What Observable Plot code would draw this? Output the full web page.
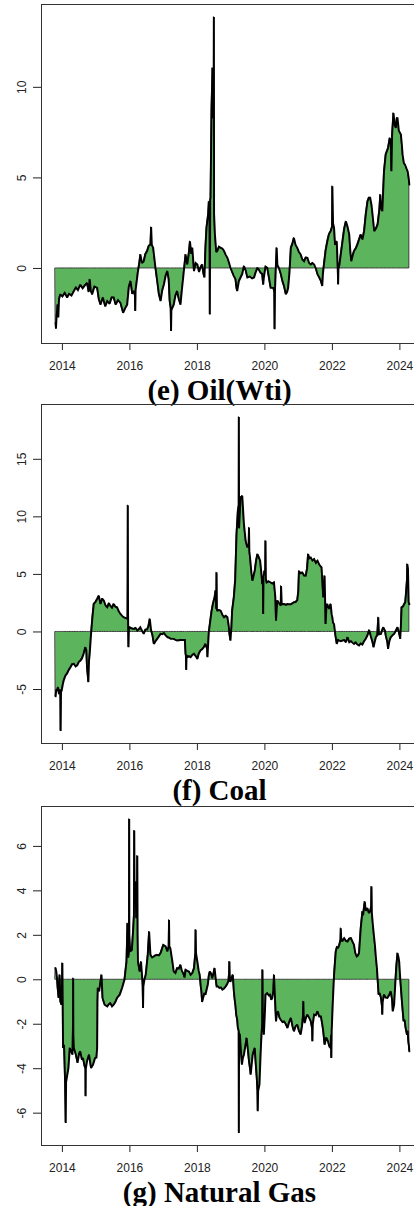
<!DOCTYPE html>
<html>
<head>
<meta charset="utf-8">
<script src="https://cdn.jsdelivr.net/npm/d3@7"></script>
<script src="https://cdn.jsdelivr.net/npm/@observablehq/plot@0.6"></script>
<style>
  html, body { margin: 0; padding: 0; background: #fff; overflow: hidden; }
  #page { position: relative; width: 414px; height: 1206px; overflow: hidden; }
  .panel { position: absolute; left: 0; width: 430px; }
  .title {
    position: absolute; left: 0; width: 439px; text-align: center;
    font: bold 29px "Liberation Serif", "Times New Roman", serif;
    line-height: 29px; color: #000; white-space: nowrap;
  }
</style>
</head>
<body>
<div id="page"></div>
<script>
// Year ticks shared by all three panels
const xTicks = [2014, 2016, 2018, 2020, 2022, 2024];

// Tick values on each value axis
const oilTicks = [0, 5, 10];
const coalTicks = [-5, 0, 5, 10, 15];
const gasTicks = [-6, -4, -2, 0, 2, 4, 6];

// Panel titles
const titles = ["(e) Oil(Wti)", "(f) Coal", "(g) Natural Gas"];

// [decimal year, value]
const oilWti = [
  [2013.80,-3.0],[2013.81,-3.33],[2013.83,-2.6],[2013.86,-2.0],[2013.88,-2.7],[2013.90,-1.7],[2013.94,-1.43],
  [2014.00,-1.55],[2014.07,-1.35],[2014.14,-1.6],[2014.20,-1.4],[2014.27,-1.5],[2014.34,-1.25],[2014.40,-1.05],
  [2014.46,-1.2],[2014.53,-0.9],[2014.60,-1.1],[2014.66,-0.95],[2014.73,-0.8],[2014.78,-1.3],[2014.81,-0.6],
  [2014.84,-1.2],[2014.88,-1.43],[2014.95,-1.0],[2015.03,-1.07],[2015.08,-1.7],[2015.13,-2.0],[2015.20,-1.6],
  [2015.27,-2.1],[2015.33,-1.8],[2015.40,-1.95],[2015.46,-1.6],[2015.52,-1.6],[2015.58,-2.0],[2015.65,-1.75],
  [2015.72,-1.9],[2015.80,-2.45],[2015.86,-2.2],[2015.92,-2.0],[2015.97,-1.0],[2016.02,-0.7],[2016.07,-1.4],
  [2016.12,-1.25],[2016.15,-1.5],[2016.16,-2.35],[2016.17,-1.2],[2016.24,-0.15],[2016.28,0.3],[2016.31,0.77],
  [2016.36,0.3],[2016.41,0.4],[2016.46,0.8],[2016.51,0.96],[2016.56,1.25],[2016.61,1.32],[2016.63,2.28],
  [2016.65,1.3],[2016.69,1.14],[2016.76,0],[2016.81,-0.7],[2016.86,-1.43],[2016.91,-1.8],[2016.96,-1.2],
  [2017.01,-0.88],[2017.06,-0.4],[2017.11,-0.15],[2017.15,-0.6],[2017.18,-1.8],[2017.21,-2.2],[2017.22,-3.45],
  [2017.23,-2.3],[2017.30,-2.0],[2017.35,-1.5],[2017.40,-1.25],[2017.45,-1.7],[2017.50,-2.0],[2017.54,-1.2],
  [2017.58,-0.5],[2017.65,0.77],[2017.70,0.22],[2017.75,0.9],[2017.78,1.5],[2017.82,0.8],[2017.85,1.14],
  [2017.90,-0.15],[2017.95,0.3],[2018.00,0.22],[2018.05,-0.2],[2018.09,0.04],[2018.14,0.22],[2018.18,-0.3],
  [2018.21,-0.5],[2018.24,1.2],[2018.27,2.24],[2018.32,3.0],[2018.34,3.7],[2018.36,3.5],[2018.37,-2.54],
  [2018.38,3.8],[2018.39,3.9],[2018.42,8.86],[2018.45,11.07],[2018.47,8.3],[2018.485,9.5],[2018.49,13.88],
  [2018.495,3.0],[2018.52,1.87],[2018.56,0.9],[2018.59,0.96],[2018.64,1.2],[2018.69,1.14],[2018.74,1.1],
  [2018.79,0.96],[2018.84,0.75],[2018.89,0.59],[2018.94,0.3],[2018.98,0.04],[2019.03,-0.2],[2019.08,-0.42],
  [2019.13,-0.6],[2019.16,-1.1],[2019.18,-1.25],[2019.23,-0.7],[2019.28,-0.5],[2019.33,-0.3],[2019.38,0.13],
  [2019.43,-0.1],[2019.48,-0.5],[2019.55,-0.45],[2019.62,-0.55],[2019.68,-0.5],[2019.73,-0.2],[2019.78,0.04],
  [2019.83,-0.1],[2019.87,-0.24],[2019.92,-0.3],[2019.95,-0.9],[2019.97,-0.5],[2020.02,0.1],[2020.07,0.04],
  [2020.12,-0.5],[2020.17,-1.07],[2020.25,-1.07],[2020.28,-1.3],[2020.29,-3.36],[2020.30,-1.2],[2020.33,0.3],
  [2020.35,1.14],[2020.37,0.2],[2020.42,0.0],[2020.47,-0.3],[2020.52,-0.7],[2020.57,-1.0],[2020.62,-1.43],
  [2020.66,-1.3],[2020.69,-1.07],[2020.73,-0.2],[2020.77,1.14],[2020.82,1.4],[2020.86,1.69],[2020.91,1.3],
  [2020.96,1.14],[2021.01,0.9],[2021.06,0.77],[2021.11,0.5],[2021.16,0.4],[2021.21,0.6],[2021.26,0.59],
  [2021.31,0.3],[2021.36,0.22],[2021.41,0.3],[2021.46,0.22],[2021.51,0.0],[2021.56,-0.33],[2021.61,-0.5],
  [2021.66,-0.7],[2021.70,-0.97],[2021.72,-0.3],[2021.75,0.22],[2021.80,1.0],[2021.85,1.5],[2021.90,1.9],
  [2021.95,2.06],[2021.99,2.3],[2022.00,4.54],[2022.02,2.5],[2022.05,2.24],[2022.08,1.3],[2022.13,1.5],
  [2022.16,0.0],[2022.17,-0.88],[2022.18,0.0],[2022.21,0.22],[2022.25,0.8],[2022.30,1.5],[2022.35,2.2],
  [2022.40,2.6],[2022.45,2.3],[2022.50,1.87],[2022.53,1.0],[2022.56,0.4],[2022.60,0.7],[2022.64,0.96],
  [2022.69,1.1],[2022.74,1.32],[2022.79,1.6],[2022.84,1.87],[2022.89,1.6],[2022.94,2.06],[2022.99,3.0],
  [2023.04,3.7],[2023.08,3.9],[2023.12,3.9],[2023.16,3.5],[2023.19,2.98],[2023.24,2.06],[2023.29,2.2],
  [2023.34,2.43],[2023.39,3.2],[2023.42,4.08],[2023.45,3.3],[2023.48,3.16],[2023.53,5.37],[2023.58,6.29],
  [2023.62,6.5],[2023.65,6.65],[2023.70,7.2],[2023.73,7.0],[2023.75,5.37],[2023.77,7.4],[2023.81,8.58],
  [2023.85,7.9],[2023.88,7.76],[2023.91,8.3],[2023.93,8.3],[2023.97,7.6],[2024.03,7.39],[2024.06,6.8],
  [2024.08,6.29],[2024.12,5.8],[2024.15,5.74],[2024.20,5.5],[2024.23,5.37],[2024.26,5.0],[2024.28,4.63]
];

const coal = [
  [2013.80,-5.6],[2013.82,-5.0],[2013.84,-5.1],[2013.87,-4.8],[2013.90,-5.4],[2013.94,-5.0],[2013.95,-8.6],
  [2013.96,-5.2],[2013.98,-5.1],[2014.01,-4.6],[2014.04,-4.2],[2014.09,-3.8],[2014.14,-3.6],[2014.19,-3.3],
  [2014.24,-3.06],[2014.29,-2.8],[2014.34,-2.77],[2014.39,-3.0],[2014.44,-2.9],[2014.49,-2.6],[2014.53,-2.5],
  [2014.58,-2.3],[2014.63,-1.9],[2014.68,-1.33],[2014.71,-1.6],[2014.73,-3.06],[2014.77,-4.36],[2014.79,-2.5],
  [2014.81,-1.9],[2014.85,-0.17],[2014.89,1.27],[2014.93,2.43],[2014.98,2.6],[2015.03,2.86],[2015.08,3.15],
  [2015.13,2.43],[2015.18,2.9],[2015.23,2.72],[2015.28,2.3],[2015.33,2.14],[2015.38,2.5],[2015.42,2.28],
  [2015.47,2.1],[2015.52,2.43],[2015.57,2.2],[2015.62,2.14],[2015.67,1.8],[2015.72,1.56],[2015.77,1.4],
  [2015.82,1.27],[2015.88,1.2],[2015.93,1.13],[2015.935,5.0],[2015.94,11.0],[2015.945,2.0],[2015.95,0.5],
  [2015.96,-1.33],[2015.97,0.2],[2016.00,0.4],[2016.06,0.3],[2016.12,0.26],[2016.17,0.35],[2016.22,0.12],
  [2016.27,0.25],[2016.31,0.4],[2016.36,0.1],[2016.41,-0.17],[2016.46,0.2],[2016.51,0.2],[2016.55,0.5],
  [2016.59,1.13],[2016.63,0.12],[2016.67,-0.3],[2016.71,-1.04],[2016.76,-0.8],[2016.81,-0.6],[2016.86,-0.4],
  [2016.91,-0.17],[2016.96,-0.2],[2017.01,-0.1],[2017.06,-0.3],[2017.11,-0.46],[2017.16,-0.5],[2017.21,-0.6],
  [2017.30,-0.6],[2017.35,-0.7],[2017.40,-0.75],[2017.45,-0.72],[2017.50,-0.7],[2017.58,-0.7],[2017.63,-0.7],
  [2017.65,-1.9],[2017.66,-2.05],[2017.67,-3.3],[2017.68,-2.0],[2017.70,-2.2],[2017.75,-2.1],[2017.80,-2.2],
  [2017.85,-2.0],[2017.90,-1.9],[2017.95,-2.1],[2018.00,-2.34],[2018.04,-1.9],[2018.09,-1.62],[2018.14,-1.5],
  [2018.19,-1.33],[2018.24,-1.04],[2018.29,-1.5],[2018.30,-2.2],[2018.32,-1.0],[2018.34,0.0],[2018.37,0.69],
  [2018.42,1.8],[2018.46,2.43],[2018.51,3.0],[2018.54,3.58],[2018.56,2.0],[2018.57,5.17],[2018.58,1.9],
  [2018.59,1.85],[2018.64,1.9],[2018.69,1.85],[2018.74,1.5],[2018.79,1.27],[2018.84,1.4],[2018.89,1.27],
  [2018.93,0.5],[2018.95,-0.17],[2018.98,-0.75],[2019.01,0.5],[2019.03,1.85],[2019.08,3.0],[2019.12,4.5],
  [2019.16,8.5],[2019.20,10.52],[2019.225,11.0],[2019.23,18.67],[2019.235,9.0],[2019.28,11.68],[2019.33,11.82],
  [2019.38,9.36],[2019.43,7.92],[2019.48,7.34],[2019.52,7.6],[2019.53,9.08],[2019.54,7.0],[2019.56,6.47],
  [2019.60,5.2],[2019.63,4.45],[2019.70,5.3],[2019.74,6.2],[2019.78,6.76],[2019.82,6.5],[2019.86,6.18],
  [2019.90,5.0],[2019.92,4.16],[2019.94,4.5],[2019.95,1.56],[2019.96,4.8],[2019.99,5.3],[2020.01,5.0],
  [2020.02,7.92],[2020.03,4.6],[2020.05,4.3],[2020.11,4.4],[2020.17,4.3],[2020.22,4.2],[2020.27,4.3],
  [2020.31,3.0],[2020.33,0.98],[2020.35,2.0],[2020.37,2.72],[2020.42,2.5],[2020.47,2.28],[2020.48,4.0],
  [2020.50,2.4],[2020.57,2.43],[2020.62,2.35],[2020.67,2.42],[2020.72,2.4],[2020.77,2.4],[2020.82,2.5],
  [2020.86,2.57],[2020.91,2.6],[2020.96,2.77],[2020.99,3.5],[2021.01,5.3],[2021.06,5.1],[2021.11,5.17],
  [2021.16,4.9],[2021.21,4.88],[2021.25,5.5],[2021.28,6.76],[2021.32,6.4],[2021.36,6.47],[2021.41,6.2],
  [2021.46,6.33],[2021.51,6.0],[2021.56,6.18],[2021.62,5.8],[2021.68,5.6],[2021.70,4.5],[2021.73,3.0],
  [2021.77,4.88],[2021.80,0.69],[2021.82,2.0],[2021.85,2.43],[2021.90,2.0],[2021.95,2.43],[2021.98,1.5],
  [2022.00,1.27],[2022.02,0.8],[2022.05,0.69],[2022.09,-0.3],[2022.13,-1.04],[2022.17,-0.7],[2022.20,-0.75],
  [2022.25,-0.8],[2022.30,-0.75],[2022.35,-0.7],[2022.40,-0.9],[2022.45,-0.46],[2022.50,-0.9],[2022.55,-0.8],
  [2022.60,-0.95],[2022.64,-1.04],[2022.69,-0.9],[2022.74,-1.1],[2022.79,-1.18],[2022.84,-1.0],[2022.89,-1.1],
  [2022.94,-0.8],[2022.99,-0.6],[2023.04,-0.3],[2023.09,0.17],[2023.14,-0.4],[2023.19,-0.9],[2023.22,-1.33],
  [2023.26,-0.8],[2023.29,-0.46],[2023.33,-0.3],[2023.36,1.27],[2023.38,-0.2],[2023.44,-0.17],[2023.48,0.2],
  [2023.51,0.4],[2023.56,0.1],[2023.58,-0.3],[2023.63,-0.9],[2023.65,-1.47],[2023.69,-0.8],[2023.73,-0.46],
  [2023.78,-0.3],[2023.83,-0.17],[2023.88,0.1],[2023.93,0.4],[2023.97,0.0],[2024.01,-0.6],[2024.03,0.5],
  [2024.05,2.14],[2024.09,2.2],[2024.13,2.43],[2024.16,2.6],[2024.18,3.3],[2024.21,4.5],[2024.22,5.9],
  [2024.24,5.5],[2024.26,2.6],[2024.28,2.4]
];

const naturalGas = [
  [2013.80,0.52],[2013.82,0.37],[2013.84,0.1],[2013.86,-0.37],[2013.89,-0.82],[2013.91,0.0],[2013.92,0.22],
  [2013.94,-0.97],[2013.97,-1.12],[2013.99,-0.2],[2014.00,0.75],[2014.01,-1.0],[2014.02,-3.07],[2014.05,-2.92],
  [2014.07,-4.0],[2014.08,-4.57],[2014.10,-6.44],[2014.11,-4.6],[2014.13,-4.42],[2014.18,-3.97],[2014.22,-3.07],
  [2014.26,-3.22],[2014.30,-3.37],[2014.315,-2.0],[2014.32,0.07],[2014.325,-2.5],[2014.34,-3.07],[2014.40,-3.37],
  [2014.45,-3.74],[2014.50,-3.3],[2014.53,-3.22],[2014.58,-3.6],[2014.61,-3.52],[2014.66,-3.9],[2014.685,-4.0],
  [2014.69,-5.24],[2014.695,-4.0],[2014.73,-3.67],[2014.79,-3.37],[2014.85,-3.97],[2014.91,-3.82],[2014.97,-3.52],
  [2015.01,-3.5],[2015.03,-3.07],[2015.04,-1.0],[2015.05,-0.37],[2015.09,-0.52],[2015.13,-0.07],[2015.16,0.22],
  [2015.19,-0.82],[2015.25,-1.12],[2015.33,-1.2],[2015.38,-1.1],[2015.42,-1.05],[2015.47,-1.2],[2015.52,-1.12],
  [2015.57,-1.0],[2015.62,-0.82],[2015.70,-0.67],[2015.77,-0.37],[2015.84,0.0],[2015.90,0.82],[2015.93,2.54],
  [2015.95,1.0],[2015.97,1.2],[2015.975,3.0],[2015.98,7.23],[2015.985,2.0],[2016.01,1.27],[2016.06,1.35],
  [2016.10,2.32],[2016.12,2.9],[2016.13,6.71],[2016.14,3.5],[2016.16,4.42],[2016.19,2.77],[2016.21,3.0],
  [2016.22,5.58],[2016.23,2.0],[2016.24,0.82],[2016.29,0.37],[2016.33,0.82],[2016.37,0.0],[2016.38,-0.3],
  [2016.39,-1.27],[2016.40,-0.3],[2016.43,0.0],[2016.47,0.22],[2016.53,1.12],[2016.57,2.17],[2016.61,1.12],
  [2016.66,1.0],[2016.71,1.05],[2016.76,1.1],[2016.81,1.12],[2016.86,1.1],[2016.91,1.2],[2016.99,1.57],
  [2017.06,1.5],[2017.11,1.27],[2017.15,1.5],[2017.16,2.69],[2017.17,1.5],[2017.20,1.42],[2017.26,0.82],
  [2017.30,0.37],[2017.35,0.3],[2017.40,0.52],[2017.45,0.5],[2017.50,0.67],[2017.54,0.4],[2017.58,0.3],
  [2017.62,0.1],[2017.65,0.45],[2017.70,0.4],[2017.75,0.37],[2017.80,0.22],[2017.85,0.3],[2017.90,0.52],
  [2017.94,1.2],[2017.95,2.25],[2017.96,1.2],[2018.00,0.82],[2018.04,0.4],[2018.07,0.22],[2018.10,-0.3],
  [2018.12,-0.52],[2018.14,-1.0],[2018.17,-0.82],[2018.21,-0.6],[2018.24,-0.67],[2018.28,-0.4],[2018.31,-0.22],
  [2018.34,0.2],[2018.37,0.37],[2018.40,0.3],[2018.44,0.07],[2018.48,0.3],[2018.51,0.52],[2018.54,0.1],
  [2018.57,-0.3],[2018.61,-0.3],[2018.65,-0.37],[2018.70,-0.35],[2018.74,-0.45],[2018.79,-0.4],[2018.84,-0.3],
  [2018.88,-0.2],[2018.92,-0.07],[2018.94,0.3],[2018.95,0.82],[2018.96,0.2],[2018.98,-0.1],[2019.02,0.1],
  [2019.05,0.22],[2019.08,-0.5],[2019.10,-0.82],[2019.13,-1.2],[2019.15,-1.57],[2019.18,-1.8],[2019.20,-2.17],
  [2019.225,-2.3],[2019.23,-6.89],[2019.235,-2.4],[2019.26,-2.47],[2019.29,-3.2],[2019.32,-3.82],[2019.35,-3.5],
  [2019.38,-3.37],[2019.42,-3.0],[2019.46,-2.62],[2019.50,-3.2],[2019.53,-3.67],[2019.56,-4.0],[2019.58,-4.27],
  [2019.61,-3.8],[2019.64,-3.37],[2019.67,-3.2],[2019.70,-3.07],[2019.73,-3.8],[2019.76,-4.42],[2019.78,-5.0],
  [2019.79,-5.91],[2019.80,-5.0],[2019.84,-4.72],[2019.87,-3.5],[2019.89,-2.77],[2019.92,-2.0],[2019.93,0.45],
  [2019.94,-1.5],[2019.97,-2.47],[2020.00,-1.5],[2020.02,-0.67],[2020.07,-0.6],[2020.11,-0.7],[2020.15,-0.67],
  [2020.19,-0.9],[2020.22,-0.82],[2020.25,-0.5],[2020.27,0.22],[2020.29,-0.5],[2020.33,-1.87],[2020.36,-1.5],
  [2020.39,-1.42],[2020.43,-1.7],[2020.47,-1.8],[2020.52,-1.9],[2020.57,-1.87],[2020.62,-2.0],[2020.67,-2.17],
  [2020.72,-1.9],[2020.77,-1.72],[2020.82,-2.1],[2020.86,-2.32],[2020.91,-2.1],[2020.96,-2.02],[2021.01,-2.3],
  [2021.06,-2.47],[2021.10,-2.1],[2021.13,-1.6],[2021.14,-0.97],[2021.15,-1.6],[2021.18,-1.95],[2021.22,-1.7],
  [2021.26,-1.57],[2021.31,-1.7],[2021.36,-1.87],[2021.40,-2.2],[2021.41,-2.77],[2021.42,-2.0],[2021.46,-1.57],
  [2021.51,-1.6],[2021.56,-1.42],[2021.61,-1.65],[2021.66,-1.65],[2021.70,-2.0],[2021.73,-2.32],[2021.77,-2.92],
  [2021.82,-2.6],[2021.87,-2.77],[2021.91,-3.0],[2021.95,-3.07],[2021.96,-2.5],[2021.97,-3.52],[2021.98,-2.3],
  [2022.01,-1.12],[2022.05,0.22],[2022.10,1.27],[2022.14,1.5],[2022.17,1.42],[2022.21,1.6],[2022.24,1.8],
  [2022.25,2.32],[2022.26,1.9],[2022.29,1.72],[2022.35,1.87],[2022.40,1.75],[2022.45,1.72],[2022.50,1.85],
  [2022.55,1.87],[2022.60,1.7],[2022.64,1.57],[2022.68,1.2],[2022.72,1.05],[2022.76,1.1],[2022.79,1.2],
  [2022.84,2.32],[2022.89,3.07],[2022.91,2.9],[2022.94,3.3],[2022.96,3.52],[2022.99,3.1],[2023.04,3.22],
  [2023.08,3.0],[2023.12,3.07],[2023.15,3.3],[2023.16,4.19],[2023.17,3.0],[2023.20,2.47],[2023.23,2.0],
  [2023.26,1.57],[2023.29,1.0],[2023.32,0.52],[2023.37,-0.67],[2023.40,-0.6],[2023.44,-0.82],[2023.47,-1.2],
  [2023.48,-1.57],[2023.49,-1.0],[2023.53,-0.67],[2023.58,-0.8],[2023.63,-0.82],[2023.68,-0.7],[2023.73,-0.52],
  [2023.77,-0.9],[2023.79,-1.42],[2023.83,-1.12],[2023.86,-0.3],[2023.89,0.52],[2023.93,1.2],[2023.96,1.0],
  [2023.98,0.82],[2024.01,0.07],[2024.06,-0.97],[2024.11,-1.87],[2024.14,-1.8],[2024.17,-2.17],[2024.21,-2.47],
  [2024.23,-2.3],[2024.25,-2.77],[2024.27,-3.0],[2024.28,-3.22]
];

// Base-graphics style padding: 4% of the data range on each side
function padded(values) {
  const [lo, hi] = d3.extent(values);
  const pad = (hi - lo) * 0.04;
  return [lo - pad, hi + pad];
}

const xDomain = padded(oilWti.concat(coal, naturalGas).map(d => d[0]));

const panels = [
  {title: titles[0], data: oilWti, ticks: oilTicks, top: 0},
  {title: titles[1], data: coal, ticks: coalTicks, top: 400},
  {title: titles[2], data: naturalGas, ticks: gasTicks, top: 802}
];

const page = document.getElementById("page");

for (const p of panels) {
  const chart = Plot.plot({
    width: 430,
    height: 372,
    marginLeft: 41,
    marginRight: 7,
    marginTop: 4,
    marginBottom: 29,
    style: {
      fontFamily: "'Liberation Sans', Arial, sans-serif",
      fontSize: "12px",
      color: "#222",
      background: "transparent",
      overflow: "visible"
    },
    x: {
      domain: xDomain,
      ticks: xTicks,
      tickFormat: d => String(d),
      tickSize: 7,
      tickPadding: 11,
      label: null
    },
    y: {
      domain: padded(p.data.map(d => d[1])),
      ticks: p.ticks,
      tickFormat: d => String(d),
      tickSize: 8,
      tickPadding: 8,
      tickRotate: -90,
      label: null
    },
    marks: [
      Plot.areaY(p.data, {
        x: d => d[0], y: d => d[1],
        fill: "#5cb45c", stroke: "#3c3c3c", strokeWidth: 1
      }),
      Plot.lineY(p.data, {
        x: d => d[0], y: d => d[1],
        stroke: "#000", strokeWidth: 1.9, strokeLinejoin: "miter", strokeMiterlimit: 2
      }),
      Plot.frame({stroke: "#333", strokeWidth: 1})
    ]
  });
  const holder = document.createElement("div");
  holder.className = "panel";
  holder.style.top = p.top + "px";
  holder.appendChild(chart);
  page.appendChild(holder);

  const title = document.createElement("div");
  title.className = "title";
  title.style.top = (p.top + 375.5) + "px";
  title.textContent = p.title;
  page.appendChild(title);
}
</script>
</body>
</html>
